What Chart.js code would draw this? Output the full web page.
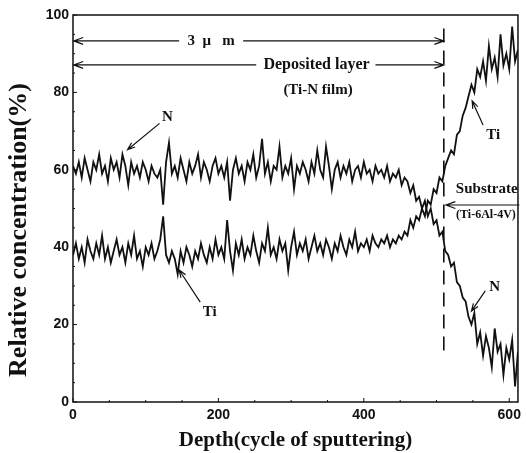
<!DOCTYPE html>
<html>
<head>
<meta charset="utf-8">
<script src="https://cdn.jsdelivr.net/npm/chart.js@4.4.0/dist/chart.umd.min.js"></script>
<style>
  html, body { margin: 0; padding: 0; background: #fff; }
  #wrap { width: 526px; height: 453px; }
</style>
</head>
<body>
<div id="wrap"><canvas id="myChart"></canvas></div>
<script>
// Depth step between read points (cycles of sputtering)
var step = 4;

// Nitrogen concentration (%) read every 4 cycles
var nValues = [
  61, 59, 62, 58, 63, 60, 57, 62, 60, 64, 59, 61, 57, 63, 60, 62, 58, 64, 61, 56,
  62, 59, 61, 58, 62, 60, 57, 61, 59, 58, 60, 51, 62, 67, 59, 61, 58, 63, 60, 57,
  62, 59, 61, 64, 58, 62, 60, 57, 61, 63, 59, 61, 58, 62, 52, 60, 63, 59, 61, 57,
  62, 60, 64, 58, 61, 68, 59, 62, 57, 61, 60, 66, 58, 61, 59, 63, 55, 61, 59, 62,
  60, 57, 62, 59, 65, 60, 58, 66, 61, 55, 60, 62, 58, 61, 59, 62, 57, 60, 61, 58,
  62, 59, 60, 57, 61, 59, 60, 58, 61, 57, 59, 58, 60, 56, 58, 57, 54, 56, 52, 53,
  50, 52, 48, 50, 46, 47, 43, 44, 39, 38, 35, 36, 31, 30, 27, 26, 22, 20, 23, 15,
  18, 12, 17, 14, 9, 19, 13, 15, 7, 14, 11, 16, 4, 13, 10
];

// Titanium concentration (%) read every 4 cycles
var tiValues = [
  38, 41, 37, 40, 36, 42, 39, 37, 41, 38, 43, 37, 40, 36, 39, 42, 38, 40, 36, 41,
  38, 43, 37, 39, 35, 40, 38, 41, 37, 39, 42, 48, 38, 36, 39, 37, 33, 39, 36, 40,
  38, 35, 39, 37, 41, 38, 36, 40, 37, 42, 38, 40, 37, 47, 39, 34, 41, 38, 42, 37,
  40, 38, 43, 39, 36, 41, 39, 45, 38, 40, 37, 42, 39, 41, 34, 40, 44, 38, 41, 39,
  42, 37, 40, 43, 39, 41, 38, 42, 40, 37, 41, 39, 43, 40, 38, 42, 40, 44, 39, 41,
  40, 42, 39, 43, 41, 40, 42, 41, 43, 40, 42, 41, 43, 42, 44, 43, 47, 45, 48, 47,
  50, 48, 52, 51, 55, 54, 58, 57, 61, 63, 65, 64, 69, 70, 74, 76, 79, 82, 80, 86,
  84, 88, 83, 92, 86, 89, 84, 95, 87, 90, 86, 97, 88, 91, 84
];

// Axis ticks
var xTicks = [0, 200, 400, 600];
var yTicks = [0, 20, 40, 60, 80, 100];
var boundary = 510; // film / substrate boundary (cycles)

function toPoints(values) {
  return values.map(function (v, i) { return { x: i * step, y: v }; });
}

var serif = '"Liberation Serif", "DejaVu Serif", serif';
var sans = '"Liberation Sans", Arial, sans-serif';

// Draw an arrow with an open head between two data points
function arrow(ctx, xs, ys, x1, y1, x2, y2, head) {
  var ax = xs.getPixelForValue(x1), ay = ys.getPixelForValue(y1);
  var bx = xs.getPixelForValue(x2), by = ys.getPixelForValue(y2);
  var ang = Math.atan2(by - ay, bx - ax);
  var h = head || 8;
  ctx.beginPath();
  ctx.moveTo(ax, ay);
  ctx.lineTo(bx, by);
  ctx.moveTo(bx - h * Math.cos(ang - 0.35), by - h * Math.sin(ang - 0.35));
  ctx.lineTo(bx, by);
  ctx.lineTo(bx - h * Math.cos(ang + 0.35), by - h * Math.sin(ang + 0.35));
  ctx.stroke();
}

function label(ctx, xs, ys, text, x, y, size) {
  ctx.font = 'bold ' + size + 'px ' + serif;
  ctx.fillText(text, xs.getPixelForValue(x), ys.getPixelForValue(y));
}

// Frame, inward ticks, dashed boundary, y title and the annotations
var annotations = {
  id: 'annotations',
  afterDatasetsDraw: function (chart) {
    var ctx = chart.ctx, a = chart.chartArea;
    var xs = chart.scales.x, ys = chart.scales.y;
    ctx.save();
    ctx.strokeStyle = '#111';
    ctx.fillStyle = '#111';

    // frame
    ctx.lineWidth = 1.5;
    ctx.strokeRect(a.left, a.top, a.right - a.left, a.bottom - a.top);

    // minor ticks
    ctx.lineWidth = 1;
    ctx.beginPath();
    for (var v = 0; v <= 100; v += 5) {
      var py = ys.getPixelForValue(v);
      ctx.moveTo(a.left, py);
      ctx.lineTo(a.left + (v % 20 === 0 ? 4 : 2), py);
    }
    for (var d = 0; d <= 600; d += 50) {
      var px = xs.getPixelForValue(d);
      ctx.moveTo(px, a.bottom);
      ctx.lineTo(px, a.bottom - (d % 200 === 0 ? 4 : 2));
    }
    ctx.stroke();

    // y axis title, a little below the axis centre as in the scan
    ctx.save();
    ctx.translate(19, 230);
    ctx.rotate(-Math.PI / 2);
    ctx.textAlign = 'center';
    ctx.textBaseline = 'middle';
    ctx.font = 'bold 26px ' + serif;
    ctx.fillText('Relative concentration(%)', 0, 0);
    ctx.restore();

    // dashed boundary line
    ctx.lineWidth = 1.6;
    ctx.setLineDash([14, 8]);
    ctx.beginPath();
    ctx.moveTo(xs.getPixelForValue(boundary), ys.getPixelForValue(96.5));
    ctx.lineTo(xs.getPixelForValue(boundary), ys.getPixelForValue(12.5));
    ctx.stroke();
    ctx.setLineDash([]);

    // "3 μm" and "Deposited layer" double arrows
    ctx.lineWidth = 1.2;
    arrow(ctx, xs, ys, 146, 93.3, 1, 93.3, 10);
    arrow(ctx, xs, ys, 234, 93.3, boundary, 93.3, 10);
    arrow(ctx, xs, ys, 252, 87.1, 1, 87.1, 10);
    arrow(ctx, xs, ys, 416, 87.1, boundary, 87.1, 10);

    ctx.textAlign = 'center';
    ctx.textBaseline = 'middle';
    label(ctx, xs, ys, '3  \u03bc   m', 190, 93.3, 15);
    label(ctx, xs, ys, 'Deposited layer', 335, 87.1, 16);
    label(ctx, xs, ys, '(Ti-N film)', 337, 80.7, 15);

    // series labels
    label(ctx, xs, ys, 'N', 130, 73.6, 15);
    arrow(ctx, xs, ys, 119, 72, 75, 65.2, 8);
    label(ctx, xs, ys, 'Ti', 188, 23.3, 15);
    arrow(ctx, xs, ys, 175, 25.8, 146, 34.1, 8);
    label(ctx, xs, ys, 'Ti', 578, 69, 15);
    arrow(ctx, xs, ys, 564, 71.6, 549, 77.8, 8);
    label(ctx, xs, ys, 'N', 580, 29.8, 15);
    arrow(ctx, xs, ys, 567, 28.7, 548, 23.5, 8);

    // substrate
    label(ctx, xs, ys, 'Substrate', 569, 55, 15);
    arrow(ctx, xs, ys, 614, 50.9, 513, 50.9, 10);
    label(ctx, xs, ys, '(Ti-6Al-4V)', 568, 48.4, 12);

    ctx.restore();
  }
};

// Define the chart data
var data = {
  datasets: [
    {
      label: 'N',
      data: toPoints(nValues),
      borderColor: '#111',
      borderWidth: 1.8,
      pointRadius: 0,
      tension: 0
    },
    {
      label: 'Ti',
      data: toPoints(tiValues),
      borderColor: '#111',
      borderWidth: 1.8,
      pointRadius: 0,
      tension: 0
    }
  ]
};

// Define the chart configuration
var config = {
  type: 'line',
  data: data,
  options: {
    responsive: true,
    maintainAspectRatio: false,
    animation: false,
    layout: { padding: { top: 15, right: 4, left: 0, bottom: 0 } },
    plugins: {
      legend: { display: false },
      tooltip: { enabled: false }
    },
    scales: {
      x: {
        type: 'linear',
        min: 0,
        max: 612,
        afterBuildTicks: function (axis) {
          axis.ticks = xTicks.map(function (v) { return { value: v }; });
        },
        afterFit: function (axis) { axis.height = 51; },
        grid: { display: false, drawTicks: false },
        border: { display: false },
        ticks: {
          color: '#111',
          padding: 5,
          font: { family: sans, size: 14, weight: 'bold' }
        },
        title: {
          display: true,
          text: 'Depth(cycle of sputtering)',
          color: '#111',
          padding: { top: 0, bottom: 0 },
          font: { family: serif, size: 21, weight: 'bold' }
        }
      },
      y: {
        min: 0,
        max: 100,
        afterBuildTicks: function (axis) {
          axis.ticks = yTicks.map(function (v) { return { value: v }; });
        },
        afterFit: function (axis) { axis.width = 73; },
        grid: { display: false, drawTicks: false },
        border: { display: false },
        ticks: {
          color: '#111',
          padding: 4,
          font: { family: sans, size: 14, weight: 'bold' }
        }
      }
    }
  },
  plugins: [annotations]
};

// Create the chart
var myChart = new Chart(document.getElementById('myChart').getContext('2d'), config);
</script>
</body>
</html>
